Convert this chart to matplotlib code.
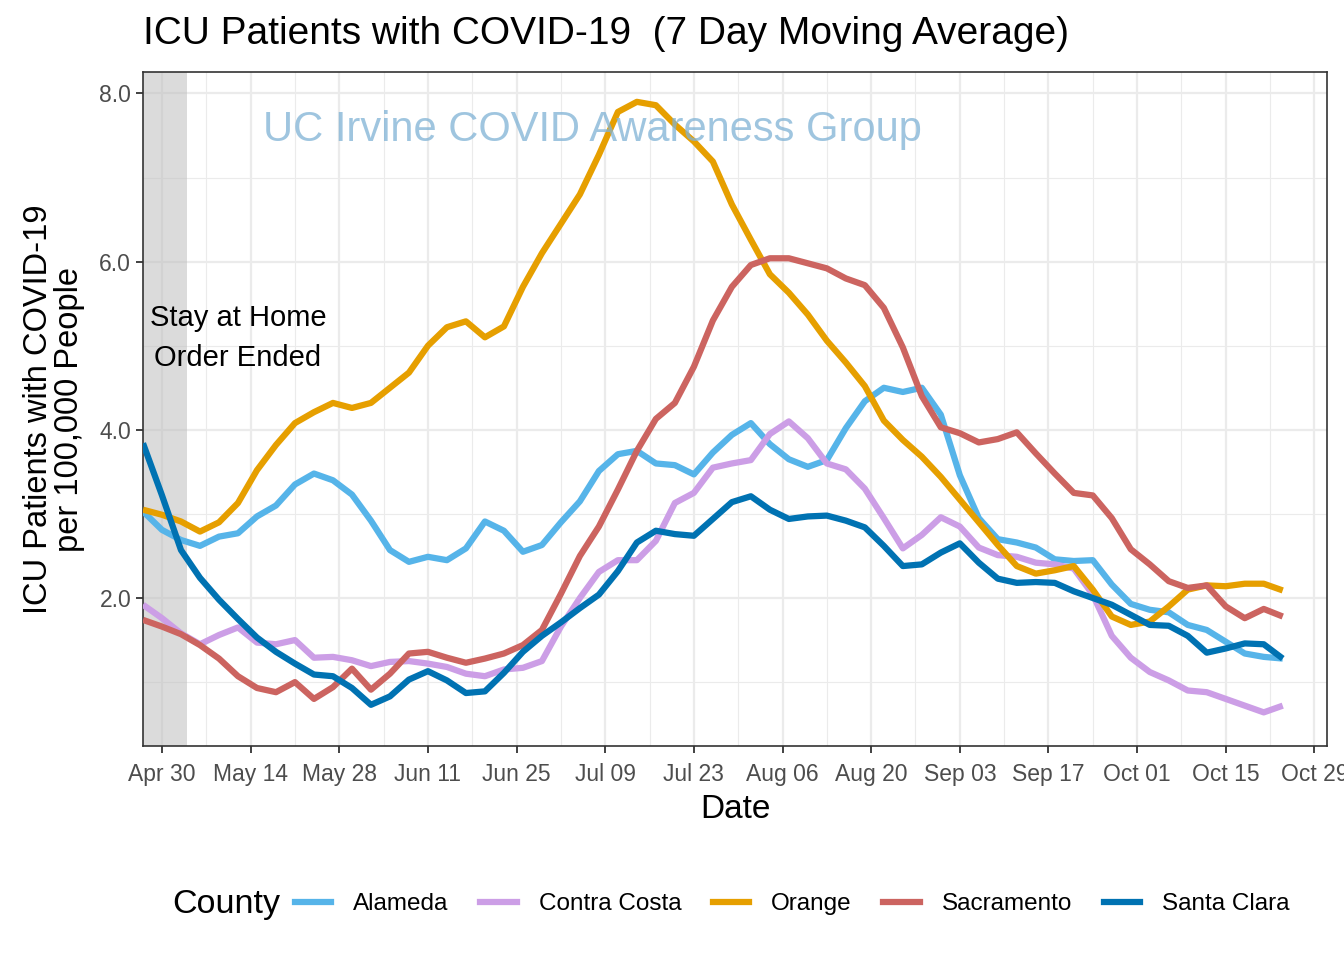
import pandas as pd
import matplotlib
matplotlib.use("Agg")
import matplotlib.pyplot as plt
import matplotlib.dates as mdates
from matplotlib.ticker import MultipleLocator, FormatStrFormatter
from matplotlib.lines import Line2D

plt.rcParams['font.family'] = ['Liberation Sans', 'DejaVu Sans']

# 7 day moving average, sampled every 3 days from Apr 27 to Oct 24 (2020)
dates = pd.date_range("2020-04-27", "2020-10-24", freq="3D")

alameda = [3.03, 2.81, 2.69, 2.62, 2.73, 2.77, 2.97, 3.10, 3.35, 3.48,
           3.40, 3.23, 2.92, 2.57, 2.43, 2.49, 2.45, 2.59, 2.91, 2.80,
           2.55, 2.63, 2.90, 3.15, 3.51, 3.71, 3.75, 3.60, 3.58, 3.47,
           3.73, 3.94, 4.08, 3.83, 3.65, 3.56, 3.64, 4.02, 4.34, 4.50,
           4.45, 4.50, 4.18, 3.46, 2.95, 2.70, 2.66, 2.60, 2.46, 2.44,
           2.45, 2.16, 1.93, 1.86, 1.83, 1.68, 1.62, 1.48, 1.34, 1.30, 1.28]
contra_costa = [1.92, 1.76, 1.58, 1.45, 1.56, 1.65, 1.47, 1.45, 1.50, 1.29,
                1.30, 1.26, 1.19, 1.24, 1.25, 1.22, 1.18, 1.10, 1.07, 1.15,
                1.17, 1.25, 1.66, 2.00, 2.31, 2.45, 2.45, 2.68, 3.13, 3.25,
                3.55, 3.60, 3.64, 3.95, 4.10, 3.90, 3.60, 3.53, 3.30, 2.95,
                2.59, 2.75, 2.96, 2.85, 2.60, 2.51, 2.49, 2.42, 2.40, 2.35,
                2.04, 1.55, 1.29, 1.12, 1.02, 0.90, 0.88, 0.80, 0.72, 0.64, 0.72]
orange = [3.05, 2.99, 2.91, 2.79, 2.90, 3.13, 3.52, 3.82, 4.08, 4.21,
          4.32, 4.26, 4.32, 4.50, 4.68, 5.00, 5.22, 5.29, 5.10, 5.23,
          5.70, 6.10, 6.45, 6.80, 7.27, 7.78, 7.90, 7.86, 7.63, 7.43,
          7.19, 6.68, 6.26, 5.85, 5.63, 5.37, 5.06, 4.80, 4.52, 4.11,
          3.88, 3.68, 3.44, 3.17, 2.90, 2.63, 2.38, 2.29, 2.33, 2.38,
          2.10, 1.78, 1.68, 1.72, 1.90, 2.10, 2.15, 2.14, 2.17, 2.17, 2.09]
sacramento = [1.74, 1.66, 1.57, 1.44, 1.28, 1.07, 0.93, 0.88, 1.00, 0.80,
              0.94, 1.16, 0.91, 1.10, 1.34, 1.36, 1.29, 1.23, 1.28, 1.34,
              1.44, 1.62, 2.05, 2.50, 2.85, 3.29, 3.75, 4.13, 4.32, 4.75,
              5.30, 5.70, 5.96, 6.04, 6.04, 5.98, 5.92, 5.80, 5.72, 5.45,
              4.98, 4.40, 4.03, 3.96, 3.85, 3.89, 3.97, 3.72, 3.48, 3.25,
              3.22, 2.95, 2.58, 2.40, 2.20, 2.12, 2.15, 1.90, 1.76, 1.87, 1.78]
santa_clara = [3.84, 3.22, 2.57, 2.24, 1.98, 1.75, 1.53, 1.36, 1.22, 1.09,
               1.07, 0.93, 0.73, 0.83, 1.03, 1.13, 1.02, 0.87, 0.89, 1.11,
               1.36, 1.55, 1.71, 1.88, 2.04, 2.32, 2.66, 2.80, 2.76, 2.74,
               2.94, 3.14, 3.21, 3.05, 2.94, 2.97, 2.98, 2.92, 2.84, 2.62,
               2.38, 2.40, 2.54, 2.65, 2.42, 2.23, 2.18, 2.19, 2.18, 2.08,
               2.00, 1.92, 1.80, 1.68, 1.67, 1.55, 1.35, 1.40, 1.46, 1.45, 1.28]

counties = ["Alameda", "Contra Costa", "Orange", "Sacramento", "Santa Clara"]
series = [alameda, contra_costa, orange, sacramento, santa_clara]
colors = ["#56B4E9", "#CC9EE6", "#E69F00", "#CC6460", "#0072B2"]

fig = plt.figure(figsize=(13.44, 9.6), dpi=100)
ax = fig.add_axes([0.1064, 0.2229, 0.8810, 0.7021])

# stay at home order shading
ax.axvspan(pd.Timestamp("2020-04-20"), pd.Timestamp("2020-05-04"),
           color="#BEBEBE", alpha=0.55, lw=0, zorder=1)

for vals, col in zip(series, colors):
    ax.plot(dates, vals, color=col, lw=4.5, solid_capstyle="butt",
            solid_joinstyle="round", zorder=3)

ax.set_xticks(pd.date_range("2020-04-30", "2020-10-29", freq="14D"))
ax.set_xticks(pd.date_range("2020-04-23", "2020-11-05", freq="7D"), minor=True)
ax.xaxis.set_major_formatter(mdates.DateFormatter("%b %d"))
ax.yaxis.set_major_locator(MultipleLocator(2))
ax.yaxis.set_minor_locator(MultipleLocator(1))
ax.yaxis.set_major_formatter(FormatStrFormatter("%.1f"))
ax.set_xlim(pd.Timestamp("2020-04-27"), pd.Timestamp("2020-10-31"))
ax.set_ylim(0.24, 8.255)

ax.grid(which="major", color="#EBEBEB", lw=1.6, zorder=0)
ax.grid(which="minor", color="#EBEBEB", lw=0.8, zorder=0)
ax.set_axisbelow(True)
for s in ax.spines.values():
    s.set_color("#333333")
    s.set_linewidth(1.2)
ax.tick_params(which="major", length=5, width=1.3, color="#333333",
               labelcolor="#4D4D4D", labelsize=16.5)
ax.tick_params(which="minor", length=0)
ax.tick_params(axis="x", pad=7)

ax.set_xlabel("Date", fontsize=24, labelpad=6)
ax.set_ylabel("ICU Patients with COVID-19\nper 100,000 People", fontsize=23.5,
              labelpad=10, linespacing=1.0)
fig.text(0.1064, 0.965, "ICU Patients with COVID-19  (7 Day Moving Average)",
         fontsize=28, va="center", ha="left")

ax.text(pd.Timestamp("2020-05-12"), 5.09, "Stay at Home\nOrder Ended",
        fontsize=21, ha="center", va="center", linespacing=1.55, zorder=4)
ax.text(pd.Timestamp("2020-07-07"), 7.56, "UC Irvine COVID Awareness Group",
        fontsize=30, color="#7FB2D5", alpha=0.75, ha="center", va="center", zorder=5)

# legend
fig.text(0.128, 0.0583, "County", fontsize=24.5, va="center", ha="left")
handles = [Line2D([], [], color=c, lw=4.5) for c in colors]
fig.legend(handles, counties, loc="center left", bbox_to_anchor=(0.2195, 0.0583),
           ncol=5, frameon=False, fontsize=17.5, handlelength=1.5,
           columnspacing=1.3, handletextpad=0.9, borderpad=0, borderaxespad=0)

fig.savefig("out.png", dpi=100)
